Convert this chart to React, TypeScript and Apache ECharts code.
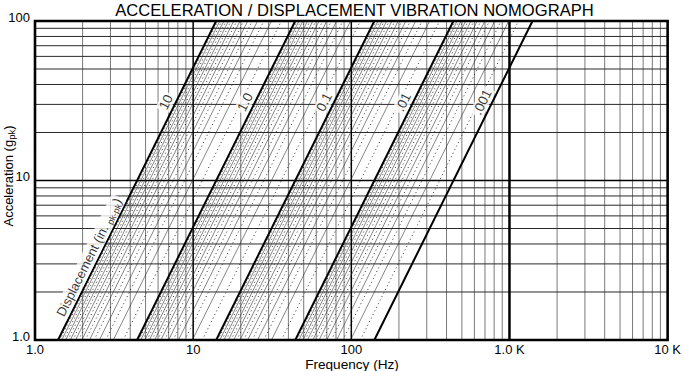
import React, { useEffect, useRef } from "react";
import * as echarts from "echarts";

const TITLE = "ACCELERATION / DISPLACEMENT VIBRATION NOMOGRAPH";
const X_NAME = "Frequency (Hz)";
const xTickLabels = ["1.0", "10", "100", "1.0 K", "10 K"]; // at 1, 10, 100, 1000, 10000
const yTickLabels = ["1.0", "10", "100"]; // at 1, 10, 100

const X_MIN = 1;
const X_MAX = 10000;
const Y_MIN = 1;
const Y_MAX = 100;

// displacement (in. pk-pk)
const majorDisplacements = [10, 1, 0.1, 0.01, 0.001];
const majorDisplacementLabels = ["10", "1.0", "0.1", ".01", ".001"];
const decadeBases = [1, 0.1, 0.01, 0.001];
const solidSteps = [2, 3, 4, 5, 6, 7, 8, 9];
const dottedSteps = [1.5, 2.5, 3.5, 4.5, 5.5, 6.5, 7.5, 8.5, 9.5];

// grid
const gridSteps = [2, 3, 4, 5, 6, 7, 8, 9];
const xGridDecades = [1, 10, 100, 1000];
const yGridDecades = [1, 10];
const xMajorGrid = [10, 100];
const xHeavyGrid = [1000];
const yMajorGrid = [10];

const LABEL_ACCEL = 31; // g, where the value labels sit
const DISP_LABEL_ACCEL = 3.3; // g, where the "Displacement" label sits
const G_IN = 386.09; // in/s^2

const FONT = "'Liberation Sans', Arial, Helvetica, sans-serif";

const W = 684;
const H = 371;
const GRID = { left: 35, right: 14, top: 21, bottom: 31 };

function freqAt(a: number, dPkPk: number) {
  // a[g] = (2 pi f)^2 * (D/2) / g
  return Math.sqrt((2 * a * G_IN) / dPkPk) / (2 * Math.PI);
}

function lineSeries(data: number[][], style: any, z: number) {
  return {
    type: "line",
    data,
    symbol: "none",
    showSymbol: false,
    silent: true,
    lineStyle: style,
    z,
  };
}

function dispSeries(d: number, style: any, z: number) {
  return lineSeries(
    [
      [freqAt(Y_MIN, d), Y_MIN],
      [freqAt(Y_MAX, d), Y_MAX],
    ],
    style,
    z
  );
}

function vLine(x: number, style: any, z: number) {
  return lineSeries(
    [
      [x, Y_MIN],
      [x, Y_MAX],
    ],
    style,
    z
  );
}

function hLine(y: number, style: any, z: number) {
  return lineSeries(
    [
      [X_MIN, y],
      [X_MAX, y],
    ],
    style,
    z
  );
}

export default function App() {
  const ref = useRef<HTMLDivElement>(null);

  useEffect(() => {
    if (!ref.current) return;
    const chart = echarts.init(ref.current, null, { renderer: "svg" });

    const plotW = W - GRID.left - GRID.right;
    const plotH = H - GRID.top - GRID.bottom;
    const pxPerDecX = plotW / Math.log10(X_MAX / X_MIN);
    const pxPerDecY = plotH / Math.log10(Y_MAX / Y_MIN);
    const angle = (Math.atan2(pxPerDecY, pxPerDecX / 2) * 180) / Math.PI;
    const leftShift = Math.pow(10, -10 / pxPerDecX);

    const series: any[] = [];

    // grid lines
    const minorV = { color: "#7a7a7a", width: 1 };
    const minorH = { color: "#2a2a2a", width: 1 };
    xGridDecades.forEach((dec) =>
      gridSteps.forEach((s) => series.push(vLine(dec * s, minorV, 1)))
    );
    yGridDecades.forEach((dec) =>
      gridSteps.forEach((s) => series.push(hLine(dec * s, minorH, 1)))
    );
    xMajorGrid.forEach((v) => series.push(vLine(v, { color: "#000", width: 1.5 }, 2)));
    xHeavyGrid.forEach((v) => series.push(vLine(v, { color: "#000", width: 2.5 }, 2)));
    yMajorGrid.forEach((v) => series.push(hLine(v, { color: "#000", width: 1.5 }, 2)));

    // displacement lines
    decadeBases.forEach((base) => {
      dottedSteps.forEach((s) =>
        series.push(dispSeries(base * s, { color: "#000", width: 0.8, type: [1, 3] }, 3))
      );
      solidSteps.forEach((s) =>
        series.push(dispSeries(base * s, { color: "#222", width: 0.55 }, 3))
      );
    });
    majorDisplacements.forEach((d) =>
      series.push(dispSeries(d, { color: "#000", width: 2 }, 4))
    );

    // labels along the lines
    const labelData: any[] = majorDisplacements.map((d, i) => ({
      value: [freqAt(LABEL_ACCEL, d) * leftShift, LABEL_ACCEL],
      label: { formatter: majorDisplacementLabels[i] },
    }));
    labelData.push({
      value: [freqAt(DISP_LABEL_ACCEL, majorDisplacements[0]) * leftShift, DISP_LABEL_ACCEL],
      label: {
        formatter: "{n|Displacement (in. }{s|pk-pk}{n|)}",
        rich: {
          n: { fontSize: 13, fontFamily: FONT, color: "#000", lineHeight: 16 },
          s: { fontSize: 9, fontFamily: FONT, color: "#000", lineHeight: 9, verticalAlign: "bottom" },
        },
      },
    });
    series.push({
      type: "scatter",
      data: labelData,
      symbolSize: 0.1,
      itemStyle: { color: "transparent" },
      silent: true,
      z: 10,
      label: {
        show: true,
        position: "inside",
        rotate: angle,
        fontSize: 13.5,
        fontFamily: FONT,
        color: "#000",
        backgroundColor: "#fff",
        padding: [0, 2],
        align: "center",
        verticalAlign: "middle",
      },
    });

    const option: any = {
      animation: false,
      grid: {
        ...GRID,
        show: true,
        borderColor: "#000",
        borderWidth: 2.6,
        backgroundColor: "transparent",
        z: 20,
      },
      xAxis: {
        type: "log",
        logBase: 10,
        min: X_MIN,
        max: X_MAX,
        axisLine: { show: false },
        axisTick: { show: false },
        splitLine: { show: false },
        axisLabel: {
          showMinLabel: true,
          showMaxLabel: true,
          margin: 3,
          fontSize: 13,
          lineHeight: 12,
          fontFamily: FONT,
          color: "#000",
          formatter: (v: number) => xTickLabels[Math.round(Math.log10(v))] ?? "",
        },
      },
      yAxis: {
        type: "log",
        logBase: 10,
        min: Y_MIN,
        max: Y_MAX,
        axisLine: { show: false },
        axisTick: { show: false },
        splitLine: { show: false },
        axisLabel: {
          showMinLabel: true,
          showMaxLabel: true,
          margin: 5,
          fontSize: 13,
          fontFamily: FONT,
          color: "#000",
          verticalAlign: "bottom",
          lineHeight: 8,
          formatter: (v: number) => yTickLabels[Math.round(Math.log10(v))] ?? "",
        },
      },
      graphic: [
        {
          type: "text",
          x: 354.5,
          y: 10,
          style: {
            text: TITLE,
            font: `16.6px ${FONT}`,
            fill: "#000",
            textAlign: "center",
            textVerticalAlign: "middle",
          },
        },
        {
          type: "text",
          x: 352,
          y: 364,
          style: {
            text: X_NAME,
            font: `13.6px ${FONT}`,
            fill: "#000",
            textAlign: "center",
            textVerticalAlign: "middle",
          },
        },
        {
          type: "text",
          x: 8,
          y: 176,
          rotation: Math.PI / 2,
          style: {
            text: "{n|Acceleration (g}{s|pk}{n|)}",
            textAlign: "center",
            textVerticalAlign: "middle",
            rich: {
              n: { fontSize: 13, fontFamily: FONT, fill: "#000", lineHeight: 16 },
              s: { fontSize: 9.5, fontFamily: FONT, fill: "#000", lineHeight: 9, verticalAlign: "bottom" },
            },
          },
        },
      ],
      series,
    };

    chart.setOption(option);
    return () => chart.dispose();
  }, []);

  return (
    <div
      ref={ref}
      style={{ position: "absolute", left: 0, top: 0, width: W, height: H, background: "#fff" }}
    />
  );
}
